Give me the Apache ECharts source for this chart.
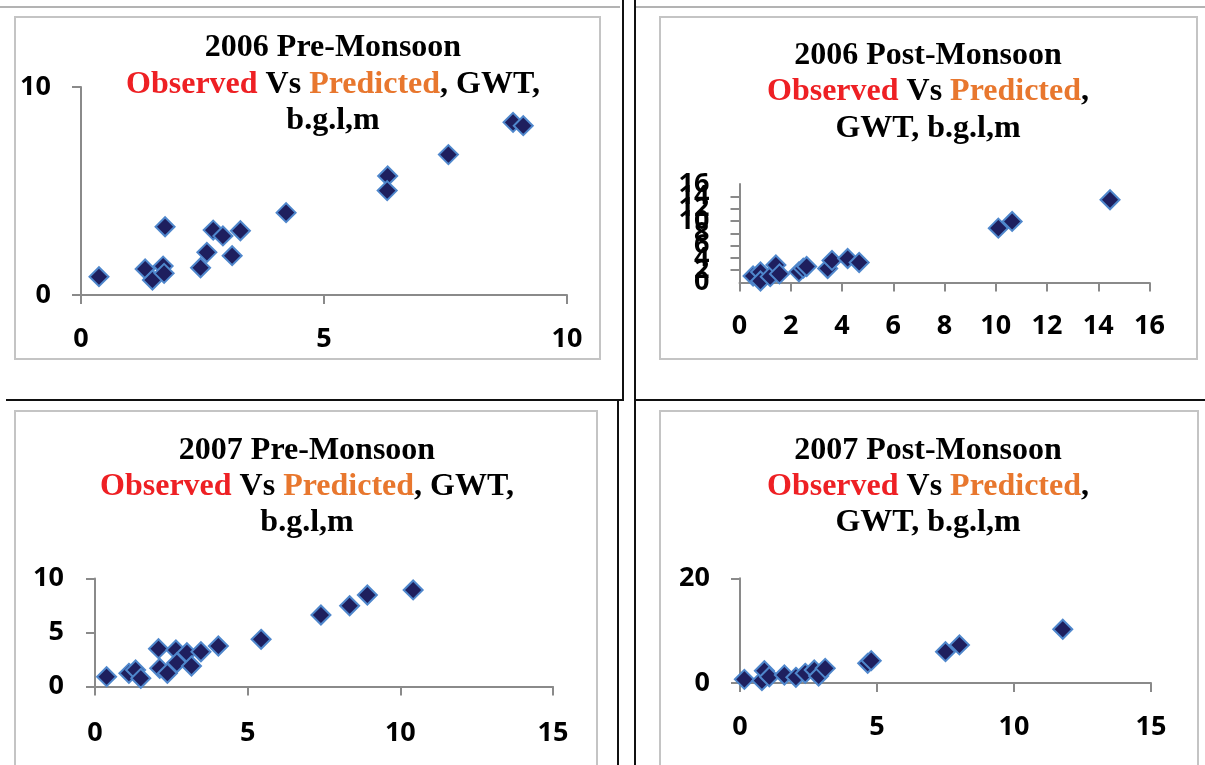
<!DOCTYPE html>
<html>
<head>
<meta charset="utf-8">
<title>Observed vs Predicted GWT</title>
<script src="https://cdn.jsdelivr.net/npm/echarts@6/dist/echarts.min.js"></script>
<style>
  html, body { margin: 0; padding: 0; background: #ffffff; }
  #chart { width: 1205px; height: 765px; }
</style>
</head>
<body>
<div id="chart"></div>
<script>
// Groundwater table depth below ground level (m): observed (x) vs predicted (y)
const obs2006Pre  = [0.37, 1.32, 1.47, 1.69, 1.71, 1.73, 2.46, 2.59, 2.72, 2.92, 3.11, 3.28, 4.22, 6.31, 6.30, 7.56, 8.89, 9.10];
const pred2006Pre = [0.88, 1.25, 0.72, 1.39, 1.04, 3.28, 1.31, 2.05, 3.12, 2.84, 1.89, 3.09, 3.96, 5.72, 5.02, 6.75, 8.30, 8.14];

const obs2006Post  = [0.53, 0.82, 0.82, 1.20, 1.42, 1.56, 2.32, 2.49, 2.62, 3.44, 3.61, 4.22, 4.67, 10.10, 10.64, 14.46];
const pred2006Post = [1.05, 1.70, 0.25, 0.95, 2.85, 1.40, 1.73, 2.33, 2.60, 2.28, 3.58, 3.90, 3.25, 8.83, 9.92, 13.44];

const obs2007Pre  = [0.38, 1.11, 1.33, 1.50, 2.08, 2.12, 2.37, 2.65, 2.68, 3.01, 3.16, 3.47, 4.04, 5.44, 7.40, 8.34, 8.92, 10.42];
const pred2007Pre = [0.91, 1.22, 1.53, 0.76, 3.50, 1.69, 1.22, 3.38, 2.20, 3.13, 1.90, 3.22, 3.75, 4.37, 6.62, 7.48, 8.47, 8.94];

const obs2007Post  = [0.16, 0.80, 0.89, 1.07, 1.62, 2.04, 2.38, 2.71, 2.87, 3.11, 4.66, 4.79, 7.50, 8.01, 11.78];
const pred2007Post = [0.70, 0.45, 2.35, 1.20, 1.53, 1.09, 1.85, 2.49, 1.34, 2.80, 3.76, 4.27, 5.98, 7.27, 10.26];

// Axis ranges: [min, max, interval]
const xRange2006Pre  = [0, 10, 5];
const yRange2006Pre  = [0, 10, 10];
const xRange2006Post = [0, 16, 2];
const yRange2006Post = [0, 16, 2];
const xRange2007Pre  = [0, 15, 5];
const yRange2007Pre  = [0, 10, 5];
const xRange2007Post = [0, 15, 5];
const yRange2007Post = [0, 20, 20];

// Title lines for each panel
const titles2006Pre  = ['2006 Pre-Monsoon',  '{r|Observed}{k| Vs }{o|Predicted}{k|, GWT,}', 'b.g.l,m'];
const titles2006Post = ['2006 Post-Monsoon', '{r|Observed}{k| Vs }{o|Predicted}{k|,}',      'GWT, b.g.l,m'];
const titles2007Pre  = ['2007 Pre-Monsoon',  '{r|Observed}{k| Vs }{o|Predicted}{k|, GWT,}', 'b.g.l,m'];
const titles2007Post = ['2007 Post-Monsoon', '{r|Observed}{k| Vs }{o|Predicted}{k|,}',      'GWT, b.g.l,m'];

const zip = (xs, ys) => xs.map((x, i) => [x, ys[i]]);

const panels = [
  { obs: obs2006Pre,  pred: pred2006Pre,  xr: xRange2006Pre,  yr: yRange2006Pre,  titles: titles2006Pre,
    grid: { left: 81, top: 87, width: 486, height: 208 }, titleX: 333, titleY: [48, 85, 121],
    box: { x: 15, y: 17, width: 585, height: 342 }, xMargin: 31, yMargin: 30 },
  { obs: obs2006Post, pred: pred2006Post, xr: xRange2006Post, yr: yRange2006Post, titles: titles2006Post,
    grid: { left: 739.5, top: 184, width: 410, height: 98.5 }, titleX: 928, titleY: [56, 92, 129],
    box: { x: 660, y: 17, width: 537, height: 342 }, xMargin: 30, yMargin: 30, crowdedY: true },
  { obs: obs2007Pre,  pred: pred2007Pre,  xr: xRange2007Pre,  yr: yRange2007Pre,  titles: titles2007Pre,
    grid: { left: 95, top: 578.5, width: 458, height: 108 }, titleX: 307, titleY: [451, 487, 523],
    box: { x: 15, y: 411, width: 582, height: 380 }, xMargin: 33, yMargin: 31 },
  { obs: obs2007Post, pred: pred2007Post, xr: xRange2007Post, yr: yRange2007Post, titles: titles2007Post,
    grid: { left: 740, top: 578.3, width: 411, height: 104.7 }, titleX: 928, titleY: [451, 487, 523],
    box: { x: 660, y: 411, width: 538, height: 380 }, xMargin: 31, yMargin: 30 }
];

const axisGray = '#8a8a8a';
const labelFont = { color: '#000000', fontFamily: 'Noto Sans', fontWeight: 'bold', fontSize: 27 };
const titleFont = { fontFamily: 'Liberation Serif', fontWeight: 'bold', fontSize: 32 };

function makeAxis(range, gridIndex, margin, showEnds) {
  return {
    type: 'value', gridIndex,
    min: range[0], max: range[1], interval: range[2],
    axisLine: { show: true, onZero: false, lineStyle: { color: axisGray, width: 2 } },
    axisTick: { show: true, inside: false, length: 9, lineStyle: { color: axisGray, width: 2 } },
    axisLabel: Object.assign({ margin, hideOverlap: false, showMinLabel: showEnds, showMaxLabel: showEnds }, labelFont),
    splitLine: { show: false }
  };
}

const xAxes = panels.map((p, i) => makeAxis(p.xr, i, p.xMargin, true));
// A crowded axis keeps every inner label; its end labels come from a companion axis.
const yAxes = panels.map((p, i) => makeAxis(p.yr, i, p.yMargin, p.crowdedY ? false : true));
const seriesYIndex = panels.map((p, i) => i);
panels.forEach((p, i) => {
  if (!p.crowdedY) return;
  yAxes.push({
    type: 'value', gridIndex: i, position: 'left',
    min: p.yr[0], max: p.yr[1], interval: p.yr[1] - p.yr[0],
    axisLine: { show: false }, axisTick: { show: false }, splitLine: { show: false },
    axisLabel: Object.assign({ margin: p.yMargin, showMinLabel: true, showMaxLabel: true }, labelFont)
  });
});

const graphics = [];

// Panel frames
panels.forEach(p => {
  graphics.push({
    type: 'rect', z: 0, silent: true,
    shape: p.box,
    style: { fill: 'none', stroke: '#c4c4c4', lineWidth: 2 }
  });
});

// Titles (one text element per line, centred; coloured words via rich styles)
const richStyles = {
  r: Object.assign({ fill: '#ee2024' }, titleFont),
  o: Object.assign({ fill: '#e8772e' }, titleFont),
  k: Object.assign({ fill: '#000000' }, titleFont)
};
panels.forEach(p => {
  p.titles.forEach((line, i) => {
    graphics.push({
      type: 'text', z: 10, silent: true,
      x: p.titleX, y: p.titleY[i],
      style: Object.assign({
        text: line, fill: '#000000', align: 'center', verticalAlign: 'middle',
        rich: richStyles
      }, titleFont)
    });
  });
});

// Dividers between the four panels
const divider = (pts, color, w) => ({
  type: 'polyline', z: 1, silent: true,
  shape: { points: pts },
  style: { stroke: color, lineWidth: w, fill: 'none' }
});
graphics.push(divider([[0, 7], [620, 7]], '#9a9a9a', 1.5));
graphics.push(divider([[636, 7], [1205, 7]], '#9a9a9a', 1.5));
graphics.push(divider([[6, 400], [623, 400], [623, 0]], '#111111', 2));
graphics.push(divider([[618, 400], [618, 765]], '#111111', 2));
graphics.push(divider([[635, 0], [635, 765]], '#111111', 2));
graphics.push(divider([[635, 400], [1205, 400]], '#111111', 2));

const option = {
  backgroundColor: '#ffffff',
  animation: false,
  grid: panels.map(p => Object.assign({ containLabel: false, outerBoundsMode: 'none' }, p.grid)),
  xAxis: xAxes,
  yAxis: yAxes,
  series: panels.map((p, i) => ({
    type: 'scatter',
    xAxisIndex: i, yAxisIndex: seriesYIndex[i],
    symbol: 'diamond', symbolSize: 19,
    itemStyle: { color: '#1e1f5e', borderColor: '#4f87cc', borderWidth: 2, opacity: 1 },
    data: zip(p.obs, p.pred),
    z: 5
  })),
  graphic: graphics
};

const chart = echarts.init(document.getElementById('chart'), null, { renderer: 'canvas' });
chart.setOption(option);
</script>
</body>
</html>
